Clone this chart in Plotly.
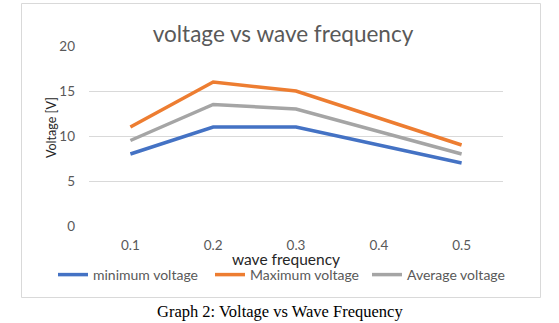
import plotly.graph_objects as go

categories = ["0.1", "0.2", "0.3", "0.4", "0.5"]
min_voltage = [8, 11, 11, 9, 7]
max_voltage = [11, 16, 15, 12, 9]
avg_voltage = [9.5, 13.5, 13, 10.5, 8]
series_names = ["minimum voltage", "Maximum voltage", "Average voltage"]
series_colors = ["#4472C4", "#ED7D31", "#A5A5A5"]
y_ticks = [0, 5, 10, 15, 20]

W, H = 559, 323
L, R, T, B = 89, 503, 46, 226

def px_x(x):
    return (x - L) / (R - L)

def px_y(y):
    return (B - y) / (B - T)

fig = go.Figure()
for name, vals, col in zip(series_names, [min_voltage, max_voltage, avg_voltage], series_colors):
    fig.add_trace(go.Scatter(x=categories, y=vals, mode="lines", name=name,
                             line=dict(color=col, width=3.5)))

fig.update_layout(
    width=W, height=H,
    margin=dict(l=L, r=W - R, t=T, b=H - B, pad=0),
    paper_bgcolor="white", plot_bgcolor="white",
    font=dict(family="Lato", color="#595959", size=13),
    title=dict(text="voltage vs wave frequency", x=px_x(283), xref="paper", xanchor="center",
               y=1 - 34 / H, yanchor="middle", font=dict(size=22.5, color="#595959", family="Lato")),
    showlegend=True,
    legend=dict(orientation="h", x=px_x(53), xanchor="left", y=px_y(275), yanchor="middle",
                font=dict(size=14, color="#595959"), itemwidth=30, tracegroupgap=0,
                entrywidth=112, bgcolor="rgba(0,0,0,0)"),
)
fig.update_xaxes(type="category", range=[-0.5, 4.5], showgrid=False, showline=False, zeroline=False,
                 ticks="", tickfont=dict(size=13.5, color="#595959"), ticklabelstandoff=9)
fig.update_yaxes(range=[0, 20], tickvals=y_ticks, showgrid=True, gridcolor="#D9D9D9", gridwidth=1,
                 zeroline=False, showline=False, ticks="",
                 tickfont=dict(size=13.5, color="#595959"), ticklabelstandoff=13)

fig.add_annotation(text="wave frequency", xref="paper", yref="paper", x=px_x(286), y=px_y(259),
                   xanchor="center", yanchor="middle", showarrow=False,
                   font=dict(size=15.5, color="#262626", family="Lato"))
fig.add_annotation(text="Voltage [V]", xref="paper", yref="paper", x=px_x(51.5), y=px_y(127.5),
                   xanchor="center", yanchor="middle", showarrow=False, textangle=-90,
                   font=dict(size=12.5, color="#262626", family="Lato"))
fig.add_annotation(text="Graph 2: Voltage vs Wave Frequency", xref="paper", yref="paper",
                   x=px_x(280), y=px_y(311.5), xanchor="center", yanchor="middle", showarrow=False,
                   font=dict(size=16.5, color="black", family="Liberation Serif"))
fig.add_shape(type="rect", xref="paper", yref="paper", x0=px_x(21.5), x1=px_x(540.5),
              y0=px_y(3.5), y1=px_y(297.5), line=dict(color="#D9D9D9", width=1), layer="below")

fig.write_html("out.html")
